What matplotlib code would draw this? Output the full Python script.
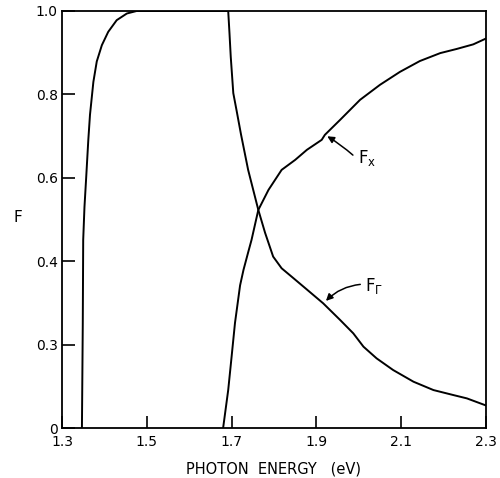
import matplotlib
matplotlib.use('Agg')
import matplotlib.pyplot as plt

# F_Gamma: rises near 1.35 eV, stays at 1, then falls past 1.69 eV
gamma_e = [1.347, 1.349, 1.350, 1.353, 1.357, 1.362, 1.366, 1.374, 1.382,
           1.394, 1.409, 1.429, 1.453, 1.476, 1.692, 1.695, 1.698, 1.704,
           1.712, 1.722, 1.739, 1.763, 1.779, 1.798, 1.818, 1.845, 1.873,
           1.916, 1.956, 1.987, 2.011, 2.042, 2.081, 2.129, 2.176, 2.223,
           2.255, 2.300]
gamma_f = [0.0, 0.25, 0.451, 0.53, 0.60, 0.69, 0.751, 0.830, 0.879,
           0.918, 0.950, 0.978, 0.994, 1.0, 1.0, 0.947, 0.89, 0.803,
           0.76, 0.705, 0.619, 0.523, 0.468, 0.411, 0.383, 0.36, 0.336,
           0.299, 0.259, 0.227, 0.195, 0.167, 0.139, 0.111, 0.091, 0.079,
           0.071, 0.054]

# F_X: rises from 1.68 eV
x_e = [1.680, 1.692, 1.700, 1.708, 1.720, 1.728, 1.739, 1.747, 1.763,
       1.787, 1.818, 1.850, 1.8775, 1.9125, 1.920, 1.956, 2.003, 2.050,
       2.097, 2.144, 2.192, 2.231, 2.270, 2.300]
x_f = [0.0, 0.091, 0.171, 0.252, 0.342, 0.379, 0.421, 0.451, 0.523,
       0.571, 0.619, 0.643, 0.667, 0.691, 0.703, 0.739, 0.787, 0.823,
       0.854, 0.880, 0.899, 0.909, 0.920, 0.934]

xticks = [1.3, 1.5, 1.7, 1.9, 2.1, 2.3]
xlabels = ['1.3', '1.5', '1.7', '1.9', '2.1', '2.3']
yticks = [0.0, 0.2, 0.4, 0.6, 0.8, 1.0]
ylabels = ['0', '0.3', '0.4', '0.6', '0.8', '1.0']

plt.rcParams['font.family'] = ['DejaVu Sans']

fig = plt.figure(figsize=(5.0, 4.78), dpi=100)
ax = fig.add_axes([0.124, 0.1046, 0.848, 0.8724])

ax.plot(gamma_e, gamma_f, color='black', lw=1.4)
ax.plot(x_e, x_f, color='black', lw=1.4)

ax.set_xlim(1.3, 2.3)
ax.set_ylim(0, 1.0)
ax.set_xticks(xticks)
ax.set_xticklabels(xlabels)
ax.set_yticks(yticks)
ax.set_yticklabels(ylabels)
ax.tick_params(direction='in', length=9, width=1.2, labelsize=10)
ax.tick_params(axis='x', pad=5)
ax.tick_params(axis='y', pad=3)
for s in ax.spines.values():
    s.set_linewidth(1.3)

ax.set_xlabel('PHOTON  ENERGY   (eV)', fontsize=10.5, labelpad=9)
fig.text(18 / 500, 1 - 218 / 478, 'F', fontsize=11, ha='center', va='center')

ax.annotate('', xy=(1.920, 0.703), xytext=(1.991, 0.650),
            arrowprops=dict(arrowstyle='-|>', color='black', lw=1.1,
                            mutation_scale=10, connectionstyle='arc3,rad=0.05'))
ax.text(1.998, 0.648, r'$\mathsf{F_x}$', fontsize=12, va='center', ha='left')

ax.annotate('', xy=(1.918, 0.300), xytext=(2.010, 0.345),
            arrowprops=dict(arrowstyle='-|>', color='black', lw=1.1,
                            mutation_scale=10, connectionstyle='arc3,rad=0.2'))
ax.text(2.015, 0.340, r'$\mathsf{F_\Gamma}$', fontsize=12, va='center', ha='left')

fig.savefig('out.png', dpi=100)
